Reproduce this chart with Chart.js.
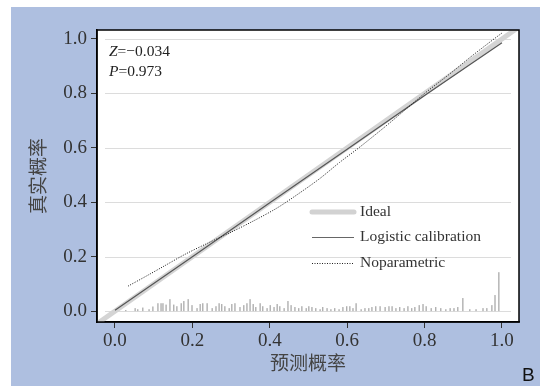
<!DOCTYPE html>
<html>
<head>
<meta charset="utf-8">
<script src="https://cdn.jsdelivr.net/npm/chart.js@4"></script>
<style>
  html, body { margin: 0; padding: 0; background: #fff; }
  canvas { display: block; }
</style>
</head>
<body>
<canvas id="calib" width="540" height="386"></canvas>
<script>
// tick values
const xTicks = [0, 0.2, 0.4, 0.6, 0.8, 1.0];
const yTicks = [0, 0.2, 0.4, 0.6, 0.8, 1.0];

// ideal diagonal
const idealX = [-0.05, 1.05];
const idealY = [-0.05, 1.05];

// logistic calibration
const logX = [0, 0.2, 0.4, 0.6, 0.8, 1.0];
const logY = [0.003, 0.2, 0.398, 0.595, 0.792, 0.986];

// nonparametric (loess) curve
const npX = [0.034, 0.08, 0.13, 0.18, 0.24, 0.3, 0.36, 0.42, 0.48, 0.53, 0.58, 0.63, 0.7, 0.76, 0.8, 0.86, 0.92, 0.97, 1.0];
const npY = [0.092, 0.128, 0.168, 0.208, 0.25, 0.29, 0.333, 0.38, 0.437, 0.488, 0.546, 0.6, 0.68, 0.752, 0.8, 0.866, 0.935, 0.99, 1.022];

// distribution of predicted probabilities (spike heights)
const spikeX = [0.028, 0.052, 0.059, 0.072, 0.088, 0.098, 0.111, 0.119, 0.124, 0.132, 0.142, 0.152, 0.160, 0.171, 0.178, 0.189, 0.199,
  0.212, 0.220, 0.227, 0.238, 0.251, 0.261, 0.269, 0.276, 0.284, 0.295, 0.302, 0.310, 0.323, 0.333, 0.341, 0.349, 0.357, 0.364,
  0.375, 0.382, 0.393, 0.401, 0.411, 0.419, 0.426, 0.437, 0.447, 0.455, 0.465, 0.475, 0.483, 0.494, 0.501, 0.509, 0.519, 0.530,
  0.537, 0.548, 0.558, 0.568, 0.579, 0.589, 0.599, 0.607, 0.615, 0.623, 0.636, 0.646, 0.656, 0.664, 0.674, 0.685, 0.698, 0.708,
  0.716, 0.726, 0.736, 0.747, 0.757, 0.767, 0.775, 0.786, 0.796, 0.804, 0.817, 0.829, 0.842, 0.855, 0.866, 0.876, 0.886, 0.899,
  0.917, 0.933, 0.951, 0.961, 0.974, 0.982, 0.992];
const spikeH = [0.004, 0.011, 0.007, 0.013, 0.007, 0.017, 0.029, 0.029, 0.029, 0.024, 0.044, 0.024, 0.018, 0.029, 0.037, 0.044, 0.022,
  0.011, 0.026, 0.029, 0.029, 0.011, 0.018, 0.029, 0.026, 0.018, 0.011, 0.026, 0.029, 0.015, 0.022, 0.029, 0.044, 0.026, 0.015,
  0.029, 0.018, 0.011, 0.022, 0.015, 0.026, 0.018, 0.011, 0.037, 0.022, 0.015, 0.011, 0.018, 0.011, 0.018, 0.015, 0.011, 0.007,
  0.015, 0.011, 0.007, 0.011, 0.007, 0.015, 0.018, 0.018, 0.011, 0.029, 0.007, 0.011, 0.011, 0.015, 0.018, 0.018, 0.015, 0.018,
  0.018, 0.011, 0.015, 0.011, 0.018, 0.011, 0.015, 0.022, 0.026, 0.018, 0.011, 0.015, 0.011, 0.007, 0.011, 0.011, 0.015, 0.048,
  0.007, 0.007, 0.011, 0.011, 0.022, 0.059, 0.143];

const pts = (xs, ys) => xs.map((x, i) => ({ x: x, y: ys[i] }));

// each spike is a vertical segment, broken by a null point
const spikePts = [];
spikeX.forEach((x, i) => {
    spikePts.push({ x: x, y: 0 }, { x: x, y: spikeH[i] }, { x: x, y: null });
});

const serif = 'Liberation Serif, Times New Roman, serif';
const cjk = 'Noto Sans CJK SC, sans-serif';

const framePlugin = {
    id: 'frame',
    beforeDraw(chart) {
        const { ctx, chartArea: a } = chart;
        ctx.save();
        ctx.fillStyle = '#ffffff';
        ctx.fillRect(0, 0, chart.width, chart.height);
        ctx.fillStyle = '#aebfe0';
        ctx.fillRect(11, 7, chart.width - 11, chart.height - 7);
        ctx.fillStyle = '#ffffff';
        ctx.fillRect(a.left, a.top, a.right - a.left, a.bottom - a.top);
        ctx.restore();
    },
    beforeDatasetsDraw(chart) {
        // inset horizontal grid lines
        const { ctx, chartArea: a, scales } = chart;
        ctx.save();
        ctx.strokeStyle = '#dcdcdc';
        ctx.lineWidth = 1.2;
        yTicks.forEach(v => {
            const y = Math.round(scales.y.getPixelForValue(v)) + 0.5;
            ctx.beginPath();
            ctx.moveTo(a.left + 8, y);
            ctx.lineTo(a.right - 8, y);
            ctx.stroke();
        });
        ctx.restore();
    },
    afterDraw(chart) {
        const { ctx, chartArea: a } = chart;
        ctx.save();
        ctx.strokeStyle = '#000';
        ctx.lineWidth = 1.5;
        ctx.strokeRect(a.left, a.top, a.right - a.left, a.bottom - a.top);

        // statistics
        ctx.fillStyle = '#222';
        ctx.textBaseline = 'middle';
        ctx.textAlign = 'left';
        const stat = (label, rest, y) => {
            ctx.font = 'italic 15.5px ' + serif;
            ctx.fillText(label, a.left + 12, y);
            const w = ctx.measureText(label).width;
            ctx.font = '15.5px ' + serif;
            ctx.fillText(rest, a.left + 12 + w, y);
        };
        stat('Z', '=\u22120.034', a.top + 22);
        stat('P', '=0.973', a.top + 42);

        // legend
        const lx0 = a.left + 215, lx1 = a.left + 257, tx = a.left + 263;
        const rows = [a.top + 182, a.top + 207, a.top + 233];
        ctx.lineCap = 'round';
        ctx.strokeStyle = '#d2d2d2';
        ctx.lineWidth = 5;
        ctx.beginPath(); ctx.moveTo(lx0, rows[0]); ctx.lineTo(lx1, rows[0]); ctx.stroke();
        ctx.lineCap = 'butt';
        ctx.strokeStyle = '#666';
        ctx.lineWidth = 1;
        ctx.beginPath(); ctx.moveTo(lx0, rows[1] + 0.5); ctx.lineTo(lx1, rows[1] + 0.5); ctx.stroke();
        ctx.strokeStyle = '#222';
        ctx.setLineDash([1, 1.5]);
        ctx.beginPath(); ctx.moveTo(lx0, rows[2] + 0.5); ctx.lineTo(lx1, rows[2] + 0.5); ctx.stroke();
        ctx.setLineDash([]);
        ctx.font = '15.5px ' + serif;
        ctx.fillStyle = '#333';
        ctx.fillText('Ideal', tx, rows[0]);
        ctx.fillText('Logistic calibration', tx, rows[1]);
        ctx.fillText('Noparametric', tx, rows[2]);

        // panel letter
        ctx.font = '19px Liberation Sans, Arial, sans-serif';
        ctx.fillStyle = '#111';
        ctx.textBaseline = 'alphabetic';
        ctx.fillText('B', 522, 381);
        ctx.restore();
    }
};

const tickFont = { family: serif, size: 19 };

new Chart(document.getElementById('calib'), {
    type: 'line',
    data: {
        datasets: [
            {
                label: 'Noparametric',
                data: pts(npX, npY),
                borderColor: '#111',
                borderWidth: 1,
                borderDash: [1, 1.5],
                tension: 0.3,
                order: 0,
            },
            {
                label: 'Logistic calibration',
                data: pts(logX, logY),
                borderColor: '#555',
                borderWidth: 1.2,
                order: 1,
            },
            {
                label: 'spikes',
                data: spikePts,
                borderColor: '#909090',
                borderWidth: 1,
                spanGaps: false,
                order: 2,
            },
            {
                label: 'Ideal',
                data: pts(idealX, idealY),
                borderColor: '#d4d4d4',
                borderWidth: 5,
                clip: 0,
                order: 3,
            }
        ]
    },
    options: {
        responsive: false,
        animation: false,
        layout: { padding: { top: 30, right: 21, bottom: 0, left: 0 } },
        elements: { point: { radius: 0 }, line: { tension: 0 } },
        plugins: {
            legend: { display: false },
            tooltip: { enabled: false }
        },
        scales: {
            x: {
                type: 'linear',
                min: -0.0465,
                max: 1.044,
                afterFit: s => { s.height = 64; },
                afterBuildTicks: s => { s.ticks = xTicks.map(v => ({ value: v })); },
                ticks: {
                    callback: v => v.toFixed(1),
                    font: tickFont,
                    color: '#333',
                    padding: 2,
                    maxRotation: 0,
                },
                grid: { drawOnChartArea: false, tickLength: 6, color: '#333' },
                border: { color: '#000', width: 1.5 },
                title: {
                    display: true,
                    text: '预测概率',
                    font: { family: cjk, size: 19 },
                    color: '#444',
                    padding: { top: 0, bottom: 12 },
                }
            },
            y: {
                type: 'linear',
                min: -0.04,
                max: 1.033,
                afterFit: s => { s.width = 97; },
                afterBuildTicks: s => { s.ticks = yTicks.map(v => ({ value: v })); },
                ticks: {
                    callback: v => v.toFixed(1),
                    font: tickFont,
                    color: '#333',
                    padding: 4,
                },
                grid: { drawOnChartArea: false, tickLength: 6, color: '#333' },
                border: { color: '#000', width: 1.5 },
                title: {
                    display: true,
                    text: '真实概率',
                    font: { family: cjk, size: 19 },
                    color: '#444',
                    padding: { top: 26, bottom: 0 },
                }
            }
        }
    },
    plugins: [framePlugin]
});
</script>
</body>
</html>
